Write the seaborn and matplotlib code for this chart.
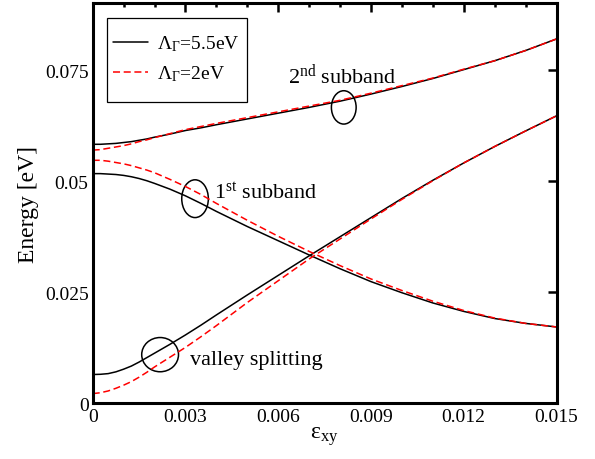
import matplotlib
matplotlib.use("Agg")
import matplotlib.pyplot as plt
import pandas as pd
import seaborn as sns
from matplotlib.lines import Line2D
from matplotlib.patches import Ellipse, Rectangle
from matplotlib.ticker import FixedLocator, MultipleLocator

# strain values (epsilon_xy) at which the subband energies are sampled
strain = [0.0, 0.00025, 0.0005, 0.00075, 0.001, 0.00125, 0.0015, 0.00175, 0.002,
          0.0025, 0.003, 0.0035, 0.004, 0.005, 0.006, 0.007, 0.008, 0.009,
          0.010, 0.011, 0.012, 0.013, 0.014, 0.015]

# Lambda_Gamma = 5.5 eV
second_55 = [0.0583, 0.0583, 0.0584, 0.0585, 0.0587, 0.0589, 0.0592, 0.0595, 0.0599,
             0.0606, 0.0614, 0.0620, 0.0627, 0.0640, 0.0653, 0.0666, 0.0680, 0.0696,
             0.0713, 0.0731, 0.0751, 0.0771, 0.0794, 0.0820]
first_upper_55 = [0.0517, 0.0517, 0.0516, 0.0515, 0.0513, 0.0510, 0.0506, 0.0501, 0.0495,
                  0.0482, 0.0467, 0.0450, 0.0432, 0.0398, 0.0366, 0.0334, 0.0303, 0.0274,
                  0.0249, 0.0226, 0.0207, 0.0191, 0.0180, 0.0172]
first_lower_55 = [0.0065, 0.00655, 0.0067, 0.0071, 0.0077, 0.0084, 0.0093, 0.0103, 0.0113,
                  0.0133, 0.0154, 0.0176, 0.0199, 0.0244, 0.0288, 0.0332, 0.0375, 0.0418,
                  0.0461, 0.0502, 0.0541, 0.0578, 0.0613, 0.0647]

# Lambda_Gamma = 2 eV
second_2 = [0.0570, 0.0571, 0.0574, 0.0577, 0.0580, 0.0584, 0.0589, 0.0593, 0.0598,
            0.0607, 0.0616, 0.0623, 0.0630, 0.0643, 0.0656, 0.0669, 0.0682, 0.0698,
            0.0715, 0.0732, 0.0752, 0.0771, 0.0794, 0.0820]
first_upper_2 = [0.0547, 0.0547, 0.0545, 0.0542, 0.0539, 0.0535, 0.0530, 0.0525, 0.0519,
                 0.0504, 0.0488, 0.0470, 0.0450, 0.0412, 0.0376, 0.0342, 0.0310, 0.0280,
                 0.0254, 0.0230, 0.0209, 0.0192, 0.0180, 0.0172]
first_lower_2 = [0.0022, 0.0024, 0.0028, 0.0034, 0.0041, 0.0049, 0.0059, 0.0070, 0.0082,
                 0.0104, 0.0126, 0.0150, 0.0175, 0.0227, 0.0276, 0.0325, 0.0370, 0.0415,
                 0.0459, 0.0501, 0.0541, 0.0578, 0.0613, 0.0647]

series_labels = [r"$\mathregular{Λ_Γ}$=5.5eV", r"$\mathregular{Λ_Γ}$=2eV"]

x_ticks = [0.0, 0.003, 0.006, 0.009, 0.012, 0.015]
x_tick_labels = ["0", "0.003", "0.006", "0.009", "0.012", "0.015"]
y_ticks = [0.0, 0.025, 0.05, 0.075]
y_tick_labels = ["0", "0.025", "0.05", "0.075"]

sns.set_style("white")
plt.rcParams["font.family"] = ["Liberation Serif", "DejaVu Serif"]
plt.rcParams["mathtext.fontset"] = "custom"
plt.rcParams["mathtext.rm"] = "Liberation Serif"
plt.rcParams["mathtext.it"] = "Liberation Serif:italic"
for key in ("text.color", "axes.labelcolor", "xtick.color", "ytick.color", "axes.edgecolor"):
    plt.rcParams[key] = "black"

rows = []
for lam, curves in ((series_labels[0], (second_55, first_upper_55, first_lower_55)),
                    (series_labels[1], (second_2, first_upper_2, first_lower_2))):
    for i, vals in enumerate(curves):
        for s, e in zip(strain, vals):
            rows.append({"strain": s, "energy": e, "branch": f"{lam}-{i}", "lam": lam})
df = pd.DataFrame(rows)

fig = plt.figure(figsize=(5.95, 4.6), dpi=100)
ax = fig.add_axes([92.7 / 595, 1 - 404.4 / 460, (556.5 - 92.7) / 595, 400 / 460])

styles = {series_labels[0]: dict(color="black", linestyle="-"),
          series_labels[1]: dict(color="red", linestyle=(0, (4.6, 2.4)))}
for branch, sub in df.groupby("branch", sort=False):
    lam = sub["lam"].iloc[0]
    sns.lineplot(data=sub, x="strain", y="energy", ax=ax, estimator=None, sort=False,
                 lw=1.1, legend=False, **styles[lam])

ax.set_xlim(0, 0.015)
ax.set_ylim(0, 0.09)
ax.xaxis.set_major_locator(FixedLocator(x_ticks))
ax.set_xticklabels(x_tick_labels)
ax.xaxis.set_minor_locator(MultipleLocator(0.001))
ax.yaxis.set_major_locator(FixedLocator(y_ticks))
ax.set_yticklabels(y_tick_labels)
for lbl in ax.get_xticklabels() + ax.get_yticklabels():
    lbl.set_fontfamily(["Liberation Serif"])

for sp in ax.spines.values():
    sp.set_linewidth(2.2)
    sp.set_color("black")
ax.tick_params(which="both", direction="in", top=True, right=True, width=1.8,
               color="black", labelsize=14, labelcolor="black")
ax.tick_params(which="major", length=6.5)
ax.tick_params(which="minor", length=3)
ax.tick_params(axis="x", pad=3)
ax.tick_params(axis="y", pad=3)

ax.set_xlabel(r"$\mathregular{ε_{xy}}$", fontsize=17, labelpad=0)
ax.set_ylabel("Energy [eV]", fontsize=17, labelpad=4)

# annotations with ellipses around the curves
ax.text(0.00633, 0.0722, r"2$^{\mathregular{nd}}$ subband", fontsize=16, ha="left", va="baseline")
ax.text(0.00393, 0.0463, r"1$^{\mathregular{st}}$ subband", fontsize=16, ha="left", va="baseline")
ax.text(0.00315, 0.00878, "valley splitting", fontsize=16, ha="left", va="baseline")
for cx, cy, w, h in ((0.00812, 0.0666, 0.00080, 0.0075),
                     (0.00331, 0.04606, 0.00086, 0.0085),
                     (0.00218, 0.01097, 0.00119, 0.0077)):
    ax.add_patch(Ellipse((cx, cy), w, h, fill=False, edgecolor="black", lw=1.1))

# legend: frame drawn as a rectangle, entries placed inside it
ax.add_patch(Rectangle((0.0302, 0.7525), 0.3028, 0.21, transform=ax.transAxes,
                       fill=False, edgecolor="black", lw=0.9, zorder=5))
handles = [Line2D([], [], lw=1.1, **styles[l]) for l in series_labels]
ax.legend(handles, series_labels, loc="center left", bbox_to_anchor=(0.0438, 0.8625),
          frameon=False, fontsize=14, handlelength=1.8, handletextpad=0.45,
          borderpad=0, borderaxespad=0, labelspacing=0.55, labelcolor="black")

fig.savefig("out.png", dpi=100)
